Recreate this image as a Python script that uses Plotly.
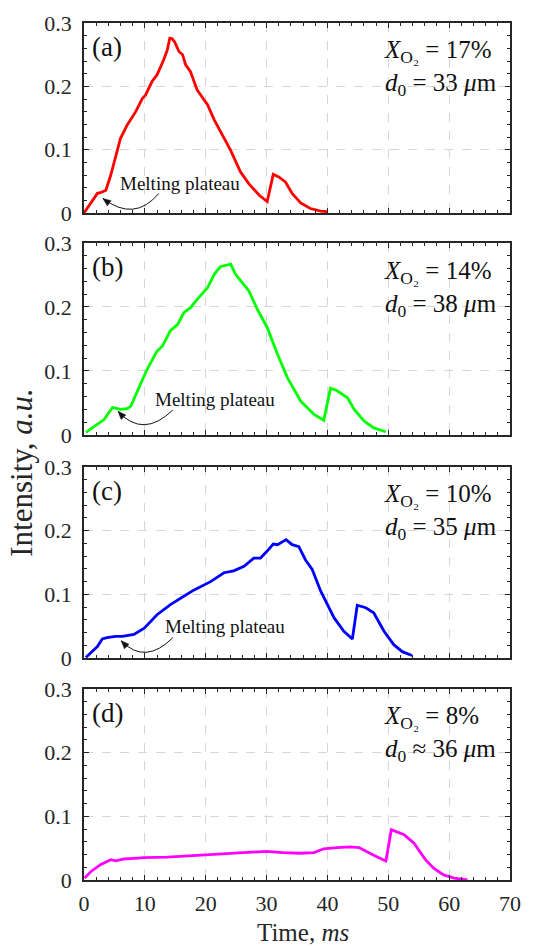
import plotly.graph_objects as go

# ---- data ----
t_a = [0, 2.2, 2.7, 3.6, 4.4, 5.2, 6.0, 7.1, 8.5, 9.6, 10.1, 11.2, 12.0, 13.1, 13.7, 14.1, 14.5, 14.9,
       15.6, 16.2, 16.7, 17.5, 18.6, 19.2, 20.3, 21.4, 22.5, 24.1, 25.7, 27.1, 28.8, 30.1, 31.1, 32.0,
       33.1, 34.2, 35.6, 37.2, 38.9, 40.0]
i_a = [0, 0.031, 0.032, 0.036, 0.060, 0.089, 0.118, 0.139, 0.160, 0.181, 0.186, 0.208, 0.218, 0.242,
       0.258, 0.276, 0.275, 0.270, 0.255, 0.250, 0.234, 0.223, 0.194, 0.186, 0.171, 0.147, 0.128, 0.099,
       0.065, 0.046, 0.028, 0.018, 0.061, 0.057, 0.049, 0.031, 0.016, 0.007, 0.003, 0.002]

t_b = [0.3, 1.9, 3.3, 4.1, 4.7, 5.2, 6.0, 7.1, 7.7, 8.8, 10.4, 12.0, 12.9, 14.2, 15.4, 16.4, 17.5,
       18.6, 20.3, 21.4, 22.4, 24.1, 24.9, 26.0, 27.1, 28.5, 30.1, 31.8, 33.4, 35.6, 37.8, 39.4, 40.5,
       41.6, 43.3, 44.4, 46.0, 47.6, 49.6]
i_b = [0.004, 0.014, 0.024, 0.035, 0.043, 0.042, 0.040, 0.041, 0.045, 0.069, 0.103, 0.131, 0.139,
       0.163, 0.173, 0.191, 0.199, 0.212, 0.230, 0.251, 0.263, 0.267, 0.251, 0.238, 0.225, 0.196, 0.168,
       0.126, 0.090, 0.053, 0.032, 0.023, 0.073, 0.069, 0.058, 0.040, 0.022, 0.011, 0.005]

t_c = [0.3, 2.2, 3.0, 3.8, 5.2, 6.3, 8.2, 9.9, 12.0, 14.2, 16.4, 18.1, 20.8, 23.0, 24.6, 26.3, 27.9,
       29.0, 30.1, 31.1, 31.8, 33.2, 34.2, 35.3, 36.4, 37.5, 38.9, 41.1, 42.7, 44.1, 44.9, 46.3, 47.6,
       49.3, 50.9, 52.3, 53.9]
i_c = [0.001, 0.018, 0.030, 0.032, 0.034, 0.034, 0.037, 0.047, 0.068, 0.084, 0.097, 0.107, 0.120,
       0.134, 0.137, 0.144, 0.157, 0.157, 0.168, 0.179, 0.178, 0.186, 0.178, 0.175, 0.154, 0.139, 0.105,
       0.063, 0.042, 0.030, 0.083, 0.079, 0.071, 0.042, 0.021, 0.010, 0.004]

t_d = [0.1, 1.1, 2.7, 4.4, 5.2, 6.6, 8.2, 9.9, 13.7, 19.2, 24.5, 30.0, 32.7, 35.5, 37.8, 39.4, 41.6,
       43.8, 45.2, 46.5, 47.6, 49.6, 50.5, 52.6, 54.2, 56.1, 57.5, 59.1, 60.8, 63.0]
i_d = [0.003, 0.013, 0.024, 0.032, 0.030, 0.033, 0.034, 0.035, 0.036, 0.039, 0.042, 0.045, 0.043,
       0.042, 0.043, 0.049, 0.051, 0.052, 0.051, 0.044, 0.039, 0.030, 0.079, 0.071, 0.058, 0.032, 0.018,
       0.008, 0.003, 0.0]

panel_labels = ["(a)", "(b)", "(c)", "(d)"]
info_text = ["<i>X</i><sub>O₂</sub> = 17%<br><i>d</i><sub>0</sub> = 33 <i>μ</i>m",
             "<i>X</i><sub>O₂</sub> = 14%<br><i>d</i><sub>0</sub> = 38 <i>μ</i>m",
             "<i>X</i><sub>O₂</sub> = 10%<br><i>d</i><sub>0</sub> = 35 <i>μ</i>m",
             "<i>X</i><sub>O₂</sub> = 8%<br><i>d</i><sub>0</sub> ≈ 36 <i>μ</i>m"]
colors = ["#ff0000", "#00ff00", "#0000ff", "#ff00ff"]

# melting plateau annotation anchor points (data coords): text pos, arrow tail, control, head
plateau_text = [(5.6, 0.047), (11.3, 0.056), (13.0, 0.049)]
plateau_tail = [(12.3, 0.031), (14.6, 0.039), (14.6, 0.032)]
plateau_ctrl = [(8.3, -0.015), (9.7, -0.006), (10.05, -0.0115)]
plateau_head = [(3.1, 0.023), (5.6, 0.037), (6.1, 0.027)]

FONT = "Liberation Serif, Times New Roman, DejaVu Serif, serif"
AXC = "#262626"

domains = [(0.7783, 1.0), (0.5193, 0.7433), (0.2590, 0.4819), (0.0, 0.2229)]
series = [(t_a, i_a), (t_b, i_b), (t_c, i_c), (t_d, i_d)]

PX_PER_MS = 426 / 70.0
PX_PER_UNIT = 190 / 0.3

fig = go.Figure()
for k, ((tx, iy), col) in enumerate(zip(series, colors)):
    n = k + 1
    fig.add_trace(go.Scatter(x=tx, y=iy, mode="lines", line=dict(color=col, width=2.8),
                             xaxis=f"x{n}" if n > 1 else "x", yaxis=f"y{n}" if n > 1 else "y",
                             showlegend=False, hoverinfo="skip"))

for k in range(4):
    n = k + 1
    xname = "xaxis" if n == 1 else f"xaxis{n}"
    yname = "yaxis" if n == 1 else f"yaxis{n}"
    fig.layout[xname] = dict(
        domain=[0, 1], anchor=f"y{n}" if n > 1 else "y", range=[0, 70], automargin=False,
        tickvals=[0, 10, 20, 30, 40, 50, 60, 70], showticklabels=(n == 4),
        ticks="inside", ticklen=5, tickwidth=1.2, tickcolor=AXC,
        minor=dict(dtick=2, tick0=0, ticks="inside", ticklen=3, tickcolor=AXC, showgrid=False),
        showline=True, linecolor=AXC, linewidth=1.5, mirror="allticks",
        showgrid=True, gridcolor="#d6d6d6", griddash="dash", gridwidth=1,
        zeroline=False, tickfont=dict(family=FONT, size=22, color="#262626"),
        ticklabelstandoff=3, fixedrange=True,
    )
    fig.layout[yname] = dict(
        domain=list(domains[k]), anchor=f"x{n}" if n > 1 else "x", range=[0, 0.3], automargin=False,
        tickvals=[0, 0.1, 0.2, 0.3], ticktext=["0", "0.1", "0.2", "0.3"],
        ticks="inside", ticklen=5, tickwidth=1.2, tickcolor=AXC,
        minor=dict(dtick=0.02, tick0=0, ticks="inside", ticklen=3, tickcolor=AXC, showgrid=False),
        showline=True, linecolor=AXC, linewidth=1.5, mirror="allticks",
        showgrid=True, gridcolor="#d6d6d6", griddash="dash", gridwidth=1,
        zeroline=False, tickfont=dict(family=FONT, size=22, color="#262626"),
        ticklabelstandoff=6, fixedrange=True,
    )

annotations = []
shapes = []
for k in range(4):
    n = k + 1
    xr = "x" if n == 1 else f"x{n}"
    yr = "y" if n == 1 else f"y{n}"
    annotations.append(dict(text=panel_labels[k], xref=f"{xr} domain", yref=f"{yr} domain",
                            x=0.014, y=0.874, xanchor="left", yanchor="middle", showarrow=False,
                            font=dict(family=FONT, size=27, color="#111111")))
    annotations.append(dict(text=info_text[k], xref=f"{xr} domain", yref=f"{yr} domain",
                            x=0.700, y=0.762, xanchor="left", yanchor="middle", align="left",
                            showarrow=False, font=dict(family=FONT, size=25, color="#111111")))
    if k < 3:
        tx, ty = plateau_text[k]
        annotations.append(dict(text="Melting plateau", xref=xr, yref=yr, x=tx, y=ty,
                                xanchor="left", yanchor="middle", showarrow=False,
                                font=dict(family=FONT, size=19, color="#111111")))
        (x0, y0), (cx, cy), (x1, y1) = plateau_tail[k], plateau_ctrl[k], plateau_head[k]
        shapes.append(dict(type="path", xref=xr, yref=yr,
                           path=f"M {x0},{y0} Q {cx},{cy} {x1},{y1}",
                           line=dict(color="#111111", width=1)))
        # arrowhead: small filled triangle along end tangent
        dxp = (x1 - cx) * PX_PER_MS
        dyp = (y1 - cy) * PX_PER_UNIT
        norm = (dxp ** 2 + dyp ** 2) ** 0.5
        ux, uy = dxp / norm, dyp / norm
        L, W = 8.0, 3.2
        bx, by = -ux * L, -uy * L
        px_, py_ = -uy * W, ux * W
        p1 = (x1 + (bx + px_) / PX_PER_MS, y1 + (by + py_) / PX_PER_UNIT)
        p2 = (x1 + (bx - px_) / PX_PER_MS, y1 + (by - py_) / PX_PER_UNIT)
        shapes.append(dict(type="path", xref=xr, yref=yr,
                           path=f"M {x1},{y1} L {p1[0]},{p1[1]} L {p2[0]},{p2[1]} Z",
                           fillcolor="#111111", line=dict(color="#111111", width=0.5)))

annotations.append(dict(text="Intensity, <i>a.u.</i>", xref="paper", yref="paper", x=-0.146, y=0.475,
                        xanchor="center", yanchor="middle", textangle=-90, showarrow=False,
                        font=dict(family=FONT, size=31, color="#262626")))
annotations.append(dict(text="Time, <i>ms</i>", xref="paper", yref="paper", x=0.515, y=-0.0607,
                        xanchor="center", yanchor="middle", showarrow=False,
                        font=dict(family=FONT, size=25, color="#262626")))

fig.update_layout(width=534, height=947, margin=dict(l=84, r=24, t=23, b=67),
                  paper_bgcolor="white", plot_bgcolor="white",
                  annotations=annotations, shapes=shapes, showlegend=False)

fig.write_html("out.html", config={"displayModeBar": False},
               post_script="document.body.style.margin='0';document.body.style.overflow='hidden';")
